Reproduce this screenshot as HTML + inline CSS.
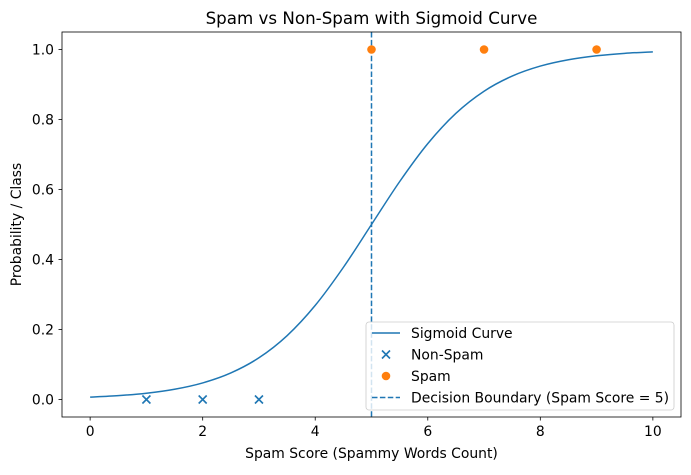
<!DOCTYPE html>
<html><head><meta charset="utf-8"><style>
body{margin:0;background:#fff;font-family:"Liberation Sans","DejaVu Sans",sans-serif}
svg text{font-family:"DejaVu Sans","Liberation Sans",sans-serif}
</style></head><body>
<svg id="c" width="691" height="470" xmlns="http://www.w3.org/2000/svg"></svg>
<script>
const curveX=[0,0.5,1,1.5,2,2.5,3,3.5,4,4.5,5,5.5,6,6.5,7,7.5,8,8.5,9,9.5,10];
const curveY=[0.0067,0.0110,0.0180,0.0293,0.0474,0.0759,0.1192,0.1824,0.2689,0.3775,0.5,0.6225,0.7311,0.8176,0.8808,0.9241,0.9526,0.9707,0.9820,0.9890,0.9933];
const nonSpamX=[1,2,3];
const nonSpamY=[0,0,0];
const spamX=[5,7,9];
const spamY=[1,1,1];
const boundary=5;
const xTicks=[0,2,4,6,8,10];
const yTicks=[0.0,0.2,0.4,0.6,0.8,1.0];
const L=62,R=681,T=32,B=417;
const sx=v=>L+(v+0.5)/11*(R-L);
const sy=v=>B-(v+0.05)/1.1*(B-T);
const svg=document.getElementById('c');
const NS='http://www.w3.org/2000/svg';
function mk(tag,attrs,parent){const e=document.createElementNS(NS,tag);for(const k in attrs)e.setAttribute(k,attrs[k]);(parent||svg).appendChild(e);return e;}
const blue='#1f77b4',orange='#ff7f0e';
const pts=curveX.map((x,i)=>[sx(x),sy(curveY[i])]);
let d='M'+pts[0][0]+','+pts[0][1];
for(let i=0;i<pts.length-1;i++){const p0=pts[Math.max(0,i-1)],p1=pts[i],p2=pts[i+1],p3=pts[Math.min(pts.length-1,i+2)];
d+=` C${p1[0]+(p2[0]-p0[0])/6},${p1[1]+(p2[1]-p0[1])/6} ${p2[0]-(p3[0]-p1[0])/6},${p2[1]-(p3[1]-p1[1])/6} ${p2[0]},${p2[1]}`;}
let p=mk('path',{d:d,fill:'none',stroke:blue,'stroke-width':1.5});


let bl=mk('line',{x1:sx(boundary),x2:sx(boundary),y1:T,y2:B,stroke:blue,'stroke-width':1.5,'stroke-dasharray':'5.5,2.4'});


function cross(x,y,g){mk('path',{d:`M${x-4},${y-4}L${x+4},${y+4}M${x-4},${y+4}L${x+4},${y-4}`,stroke:blue,'stroke-width':1.6},g);}
nonSpamX.forEach((x,i)=>{const g=mk('g',{});


cross(sx(x),sy(nonSpamY[i]),g);});
spamX.forEach((x,i)=>{const c=mk('circle',{cx:sx(x),cy:sy(spamY[i]),r:4.3,fill:orange});

});
let fr=mk('rect',{x:L,y:T,width:R-L,height:B-T,fill:'none',stroke:'#000','stroke-width':0.8});


xTicks.forEach(v=>{const x=sx(v);mk('line',{x1:x,x2:x,y1:B,y2:B+3.5,stroke:'#000','stroke-width':0.8});
const t=mk('text',{x:x,y:B+19,'text-anchor':'middle','font-size':13.9});t.textContent=v;

});
yTicks.forEach(v=>{const y=sy(v);mk('line',{x1:L-3.5,x2:L,y1:y,y2:y,stroke:'#000','stroke-width':0.8});
const t=mk('text',{x:L-8,y:y+5,'text-anchor':'end','font-size':13.9});t.textContent=v.toFixed(1);

});
let tt=mk('text',{x:(L+R)/2,y:24,'text-anchor':'middle','font-size':16.7});tt.textContent='Spam vs Non-Spam with Sigmoid Curve';


let xl=mk('text',{x:(L+R)/2,y:458,'text-anchor':'middle','font-size':13.9});xl.textContent='Spam Score (Spammy Words Count)';


let yl=mk('text',{x:0,y:0,'text-anchor':'middle','font-size':13.9,transform:`translate(21,${(T+B)/2}) rotate(-90)`});yl.textContent='Probability / Class';


const lg=mk('g',{});


mk('rect',{x:366,y:322,width:308,height:88,rx:3,fill:'#fff','fill-opacity':0.8,stroke:'#ccc','stroke-width':0.8},lg);
const labels=['Sigmoid Curve','Non-Spam','Spam','Decision Boundary (Spam Score = 5)'];
labels.forEach((s,i)=>{const y=333+i*21.5;
if(i==0)mk('line',{x1:372,x2:400,y1:y,y2:y,stroke:blue,'stroke-width':1.5},lg);
if(i==1)cross(386,y,lg);
if(i==2)mk('circle',{cx:386,cy:y,r:4.3,fill:orange},lg);
if(i==3)mk('line',{x1:372,x2:400,y1:y,y2:y,stroke:blue,'stroke-width':1.5,'stroke-dasharray':'5.5,2.4'},lg);
const t=mk('text',{x:411,y:y+5,'font-size':13.9},lg);t.textContent=s;

});
</script>
</body></html>
